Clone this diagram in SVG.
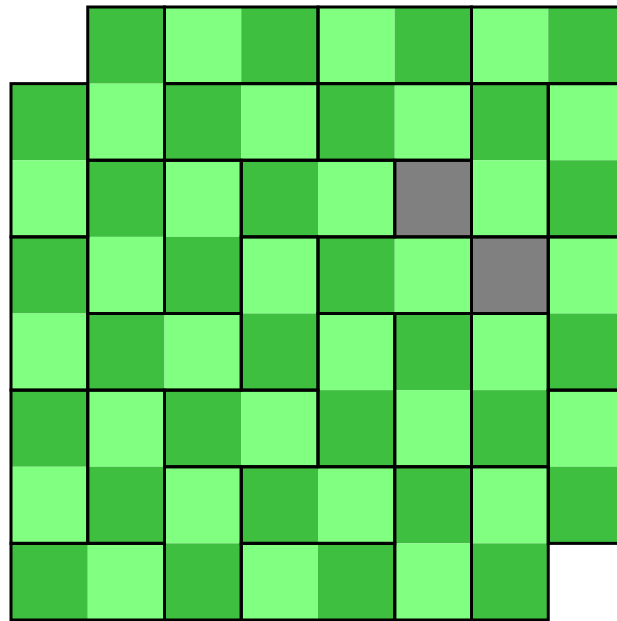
<svg xmlns="http://www.w3.org/2000/svg" width="617" height="621" viewBox="0 0 617 621">
<style>
.d{fill:#3fbf3f}
.l{fill:#80ff80}
.g{fill:#808080}
.o{fill:none;stroke:#000;stroke-width:3}
</style>
<defs>
<rect id="H" width="153.5" height="76.625" class="o"/>
<rect id="V" width="76.75" height="153.25" class="o"/>
<rect id="S" width="76.75" height="76.625" class="o"/>
</defs>
<rect width="617" height="621" fill="#fff"/>
<g id="cells">
<g transform="translate(0,7)">
<rect x="87.75" width="76.75" height="76.625" class="d"/><rect x="164.5" width="76.75" height="76.625" class="l"/><rect x="241.25" width="76.75" height="76.625" class="d"/><rect x="318" width="76.75" height="76.625" class="l"/><rect x="394.75" width="76.75" height="76.625" class="d"/><rect x="471.5" width="76.75" height="76.625" class="l"/><rect x="548.25" width="76.75" height="76.625" class="d"/>
</g>
<g transform="translate(0,83.625)">
<rect x="11" width="76.75" height="76.625" class="d"/><rect x="87.75" width="76.75" height="76.625" class="l"/><rect x="164.5" width="76.75" height="76.625" class="d"/><rect x="241.25" width="76.75" height="76.625" class="l"/><rect x="318" width="76.75" height="76.625" class="d"/><rect x="394.75" width="76.75" height="76.625" class="l"/><rect x="471.5" width="76.75" height="76.625" class="d"/><rect x="548.25" width="76.75" height="76.625" class="l"/>
</g>
<g transform="translate(0,160.25)">
<rect x="11" width="76.75" height="76.625" class="l"/><rect x="87.75" width="76.75" height="76.625" class="d"/><rect x="164.5" width="76.75" height="76.625" class="l"/><rect x="241.25" width="76.75" height="76.625" class="d"/><rect x="318" width="76.75" height="76.625" class="l"/><rect x="394.75" width="76.75" height="76.625" class="g"/><rect x="471.5" width="76.75" height="76.625" class="l"/><rect x="548.25" width="76.75" height="76.625" class="d"/>
</g>
<g transform="translate(0,236.875)">
<rect x="11" width="76.75" height="76.625" class="d"/><rect x="87.75" width="76.75" height="76.625" class="l"/><rect x="164.5" width="76.75" height="76.625" class="d"/><rect x="241.25" width="76.75" height="76.625" class="l"/><rect x="318" width="76.75" height="76.625" class="d"/><rect x="394.75" width="76.75" height="76.625" class="l"/><rect x="471.5" width="76.75" height="76.625" class="g"/><rect x="548.25" width="76.75" height="76.625" class="l"/>
</g>
<g transform="translate(0,313.5)">
<rect x="11" width="76.75" height="76.625" class="l"/><rect x="87.75" width="76.75" height="76.625" class="d"/><rect x="164.5" width="76.75" height="76.625" class="l"/><rect x="241.25" width="76.75" height="76.625" class="d"/><rect x="318" width="76.75" height="76.625" class="l"/><rect x="394.75" width="76.75" height="76.625" class="d"/><rect x="471.5" width="76.75" height="76.625" class="l"/><rect x="548.25" width="76.75" height="76.625" class="d"/>
</g>
<g transform="translate(0,390.125)">
<rect x="11" width="76.75" height="76.625" class="d"/><rect x="87.75" width="76.75" height="76.625" class="l"/><rect x="164.5" width="76.75" height="76.625" class="d"/><rect x="241.25" width="76.75" height="76.625" class="l"/><rect x="318" width="76.75" height="76.625" class="d"/><rect x="394.75" width="76.75" height="76.625" class="l"/><rect x="471.5" width="76.75" height="76.625" class="d"/><rect x="548.25" width="76.75" height="76.625" class="l"/>
</g>
<g transform="translate(0,466.75)">
<rect x="11" width="76.75" height="76.625" class="l"/><rect x="87.75" width="76.75" height="76.625" class="d"/><rect x="164.5" width="76.75" height="76.625" class="l"/><rect x="241.25" width="76.75" height="76.625" class="d"/><rect x="318" width="76.75" height="76.625" class="l"/><rect x="394.75" width="76.75" height="76.625" class="d"/><rect x="471.5" width="76.75" height="76.625" class="l"/><rect x="548.25" width="76.75" height="76.625" class="d"/>
</g>
<g transform="translate(0,543.375)">
<rect x="11" width="76.75" height="76.625" class="d"/><rect x="87.75" width="76.75" height="76.625" class="l"/><rect x="164.5" width="76.75" height="76.625" class="d"/><rect x="241.25" width="76.75" height="76.625" class="l"/><rect x="318" width="76.75" height="76.625" class="d"/><rect x="394.75" width="76.75" height="76.625" class="l"/><rect x="471.5" width="76.75" height="76.625" class="d"/>
</g>
</g>
<g id="dominoes">
<use id="dom1" href="#V" x="87.75" y="7"/>
<use id="dom2" href="#H" x="164.5" y="7"/>
<use id="dom3" href="#H" x="318" y="7"/>
<use id="dom4" href="#H" x="471.5" y="7"/>
<use id="dom5" href="#V" x="11" y="83.625"/>
<use id="dom6" href="#H" x="164.5" y="83.625"/>
<use id="dom7" href="#H" x="318" y="83.625"/>
<use id="dom8" href="#V" x="471.5" y="83.625"/>
<use id="dom9" href="#V" x="548.25" y="83.625"/>
<use id="dom10" href="#V" x="87.75" y="160.25"/>
<use id="dom11" href="#V" x="164.5" y="160.25"/>
<use id="dom12" href="#H" x="241.25" y="160.25"/>
<use id="hole1" href="#S" x="394.75" y="160.25"/>
<use id="dom13" href="#V" x="11" y="236.875"/>
<use id="dom14" href="#V" x="241.25" y="236.875"/>
<use id="dom15" href="#H" x="318" y="236.875"/>
<use id="hole2" href="#S" x="471.5" y="236.875"/>
<use id="dom16" href="#V" x="548.25" y="236.875"/>
<use id="dom17" href="#H" x="87.75" y="313.5"/>
<use id="dom18" href="#V" x="318" y="313.5"/>
<use id="dom19" href="#V" x="394.75" y="313.5"/>
<use id="dom20" href="#V" x="471.5" y="313.5"/>
<use id="dom21" href="#V" x="11" y="390.125"/>
<use id="dom22" href="#V" x="87.75" y="390.125"/>
<use id="dom23" href="#H" x="164.5" y="390.125"/>
<use id="dom24" href="#V" x="548.25" y="390.125"/>
<use id="dom25" href="#V" x="164.5" y="466.75"/>
<use id="dom26" href="#H" x="241.25" y="466.75"/>
<use id="dom27" href="#V" x="394.75" y="466.75"/>
<use id="dom28" href="#V" x="471.5" y="466.75"/>
<use id="dom29" href="#H" x="11" y="543.375"/>
<use id="dom30" href="#H" x="241.25" y="543.375"/>
</g>
</svg>
